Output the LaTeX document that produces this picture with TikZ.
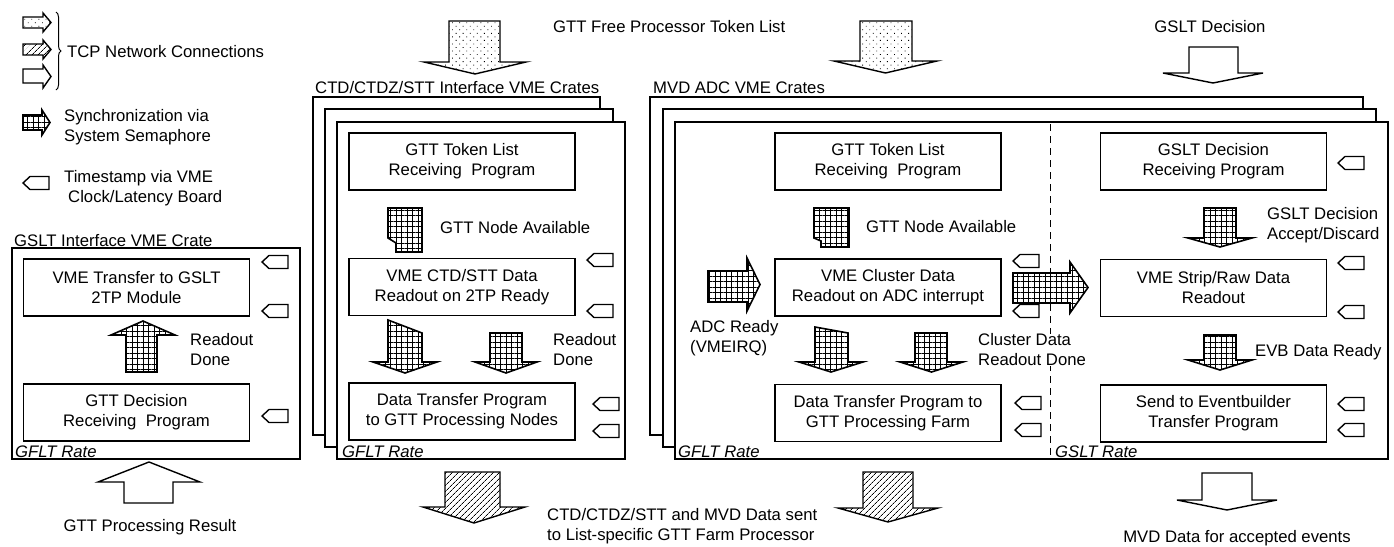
\documentclass[tikz,border=0pt]{standalone}
\usepackage{fontspec}
\setmainfont{Liberation Sans}
\usetikzlibrary{patterns.meta,decorations.pathreplacing}
\newcommand\fsz{\fontsize{16.7}{20}\selectfont}
% down/up block arrow: style, shaft xL, shaft xR, shaft-end y (left), shaft-end y (right), head base y, head xL, head xR, tip y
\newcommand\dnarrow[9]{\draw[#1] (#2,#4) -- (#3,#5) -- (#3,#6) -- (#8,#6) -- ({(#7+#8)/2},#9) -- (#7,#6) -- (#2,#6) -- cycle;}
% right block arrow: style, shaft yT, shaft yB, shaft xL, head base x, head yT, head yB, tip x
\newcommand\rtarrow[8]{\draw[#1] (#4,#2) -- (#5,#2) -- (#5,#6) -- (#8,{(#6+#7)/2}) -- (#5,#7) -- (#5,#3) -- (#4,#3) -- cycle;}
\newcommand\tstamp[2]{\draw[tsbox] (#1,#2) -- ++(7,-6.5) -- ++(19,0) -- ++(0,13) -- ++(-19,0) -- cycle;}
\tikzset{
  tsbox/.style={draw, line width=1.4pt, fill=white},
  gridarrow/.style={draw, line width=1.6pt, preaction={fill=white}, pattern={Hatch[distance=5.5pt, line width=1pt]}},
  dotarrow/.style={draw, line width=1.4pt, preaction={fill=white}, pattern={Dots[distance=5pt, radius=0.6pt, angle=45]}},
  hatcharrow/.style={draw, line width=1.4pt, preaction={fill=white}, pattern={Lines[angle=45, distance=4pt, line width=0.8pt]}},
  whitearrow/.style={draw, line width=1.4pt, fill=white},
  crate/.style={draw, line width=1.6pt, fill=white},
  prog/.style={draw, line width=1.4pt, fill=white, align=center, minimum width=226pt, minimum height=57pt, inner sep=0pt, font=\fsz},
  lbl/.style={align=left, inner sep=0pt, font=\fsz, anchor=west},
  ctxt/.style={align=center, inner sep=0pt, font=\fsz},
  ttl/.style={inner sep=0pt, font=\fsz, anchor=base west},
  rate/.style={inner sep=0pt, font=\fsz\itshape, anchor=base west},
}
\begin{document}
\begin{tikzpicture}[x=1pt, y=-1pt]
\useasboundingbox (0,0) rectangle (1394,546);

% ---------------- legend ----------------
\rtarrow{dotarrow}{17}{28}{23}{43}{13}{32}{51}
\rtarrow{hatcharrow}{44}{55}{23}{43}{40}{59}{51}
\rtarrow{whitearrow}{69}{83}{23}{43}{65}{88}{51}
\draw[line width=1pt, decorate, decoration={brace, amplitude=5pt}] (56,12) -- (56,90);
\node[lbl] (legtcp) at (67,52) {TCP Network Connections};
\rtarrow{gridarrow}{115}{130}{23}{42}{110}{135}{50}
\node[lbl] (legsync) at (64,127) {Synchronization via\\System Semaphore};
\tstamp{23}{183}
\node[lbl] (legts) at (64,188) {Timestamp via VME\\\hspace*{4pt}Clock/Latency Board};

% ---------------- GSLT interface crate ----------------
\draw[crate] (12,248) rectangle (300,459);
\node[ttl] (gsltttl) at (14,246) {GSLT Interface VME Crate};
\node[prog] (gslttr) at (136.5,287.5) {VME Transfer to GSLT\\2TP Module};
\node[prog] (gttdec) at (136.5,412.5) {GTT Decision\\Receiving\ \ Program};
\dnarrow{gridarrow}{126}{157}{372}{372}{335}{111}{175}{321}
\node[lbl] (rd1) at (190,350) {Readout\\Done};
\tstamp{262}{262}
\tstamp{262}{311}
\tstamp{262}{416}
\node[rate] (gflt1) at (15,457) {GFLT Rate};
\dnarrow{whitearrow}{124}{173}{503}{503}{482}{98}{200}{462}
\node[ctxt] (gttres) at (150,527) {GTT Processing Result};

% ---------------- CTD crates ----------------
\draw[crate] (313,97) rectangle (600,435);
\draw[crate] (325,109) rectangle (613,447);
\draw[crate] (337,122) rectangle (625,459);
\node[ttl] (ctdttl) at (315,93) {CTD/CTDZ/STT Interface VME Crates};
\node[prog] (ctdtok) at (462,161.5) {GTT Token List\\Receiving\ \ Program};
\draw[gridarrow] (388,208) -- (422,208) -- (422,252) -- (396,252) -- (396,243) -- (388,238) -- cycle;
\node[lbl] (ctdav) at (440,228) {GTT Node Available};
\node[prog] (ctdro) at (462,287) {VME CTD/STT Data\\Readout on 2TP Ready};
\dnarrow{gridarrow}{388}{422}{320}{333}{362}{373}{437}{373}
\dnarrow{gridarrow}{490}{522}{333}{333}{362}{475}{537}{373}
\node[lbl] (rd2) at (553,350) {Readout\\Done};
\node[prog] (ctddt) at (462,411.5) {Data Transfer Program\\to GTT Processing Nodes};
\tstamp{587}{260}
\tstamp{587}{311}
\tstamp{593}{404}
\tstamp{593}{431}
\node[rate] (gflt2) at (342,457) {GFLT Rate};

% ---------------- MVD crates ----------------
\draw[crate] (650,97) rectangle (1363,435);
\draw[crate] (663,109) rectangle (1376,447);
\draw[crate] (675,122) rectangle (1388,459);
\node[ttl] (mvdttl) at (653,93) {MVD ADC VME Crates};
\draw[line width=1pt, dash pattern=on 7pt off 5pt] (1050,124) -- (1050,457);
\node[prog] (mvdtok) at (888,161.5) {GTT Token List\\Receiving\ \ Program};
\draw[gridarrow] (814,208) -- (849,208) -- (849,247) -- (821,247) -- (821,241) -- (814,238) -- cycle;
\node[lbl] (mvdav) at (866,227) {GTT Node Available};
\node[prog] (mvdro) at (888,287.5) {VME Cluster Data\\Readout on ADC interrupt};
\rtarrow{gridarrow}{271}{302}{708}{747}{258}{311}{760}
\node[lbl] (adc) at (690,338) {ADC Ready\\(VMEIRQ)};
\dnarrow{gridarrow}{815}{848}{327}{333}{362}{799}{863}{372}
\dnarrow{gridarrow}{915}{947}{333}{333}{362}{900}{963}{372}
\node[lbl, fill=white] (cdr) at (978,350) {Cluster Data\\Readout Done};
\node[prog] (mvddt) at (888,413) {Data Transfer Program to\\GTT Processing Farm};
\tstamp{1013}{261}
\tstamp{1013}{311}
\tstamp{1015}{403}
\tstamp{1015}{430}
\rtarrow{gridarrow}{273}{303}{1013}{1070}{262}{313}{1088}
\node[rate] (gflt3) at (678,457) {GFLT Rate};
\node[rate] (gslt) at (1055,457) {GSLT Rate};

\node[prog] (gsltrcv) at (1213.5,161.5) {GSLT Decision\\Receiving Program};
\dnarrow{gridarrow}{1204}{1236}{208}{208}{238}{1188}{1252}{247}
\node[lbl] (gad) at (1267,225.5) {GSLT Decision\\Accept/Discard};
\node[prog] (strip) at (1213.5,288) {VME Strip/Raw Data\\Readout};
\dnarrow{gridarrow}{1204}{1236}{335}{335}{360}{1188}{1252}{370}
\node[lbl] (evb) at (1255,352) {EVB Data Ready};
\node[prog] (send) at (1213.5,413.5) {Send to Eventbuilder\\Transfer Program};
\tstamp{1338}{163}
\tstamp{1338}{263}
\tstamp{1338}{312}
\tstamp{1338}{404}
\tstamp{1338}{430}

% ---------------- external flows ----------------
\dnarrow{dotarrow}{449}{500}{21}{21}{62}{424}{526}{74}
\dnarrow{dotarrow}{860}{912}{21}{21}{61}{834}{937}{73}
\node[lbl] (free) at (553,27) {GTT Free Processor Token List};
\dnarrow{whitearrow}{1189}{1238}{47}{47}{73}{1163}{1263}{83}
\node[ctxt] (gsltdec) at (1210,27) {GSLT Decision};
\dnarrow{hatcharrow}{445}{500}{472}{472}{507}{423}{525}{523}
\dnarrow{hatcharrow}{863}{913}{472}{472}{508}{838}{938}{522}
\node[lbl] (sent) at (547,526) {CTD/CTDZ/STT and MVD Data sent\\to List-specific GTT Farm Processor};
\dnarrow{whitearrow}{1202}{1252}{473}{473}{500}{1177}{1277}{510}
\node[ctxt] (mvdacc) at (1237,538) {MVD Data for accepted events};
\end{tikzpicture}
\end{document}
